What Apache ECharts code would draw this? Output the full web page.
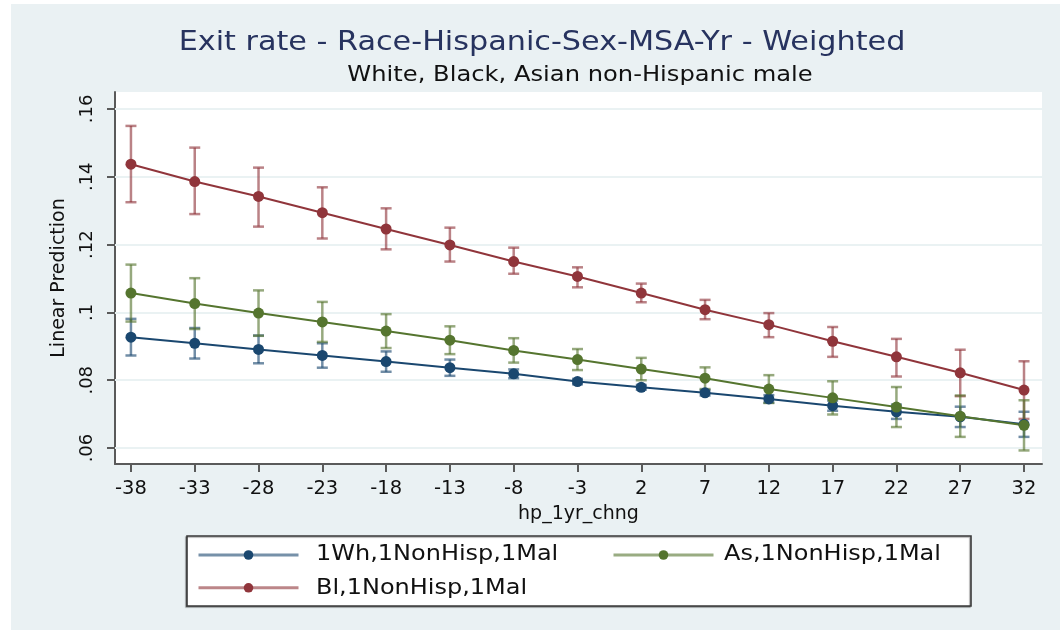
<!DOCTYPE html>
<html>
<head>
<meta charset="utf-8">
<script src="https://cdn.jsdelivr.net/npm/echarts@6/dist/echarts.min.js"></script>
<style>
  html, body { margin: 0; padding: 0; background: #ffffff; }
  #chart { width: 1060px; height: 630px; }
</style>
</head>
<body>
<div id="chart"></div>
<script>
// Predicted exit rate by one-year house-price change, with confidence intervals
const xValues = [-38, -33, -28, -23, -18, -13, -8, -3, 2, 7, 12, 17, 22, 27, 32];
const yTicks = [0.06, 0.08, 0.10, 0.12, 0.14, 0.16];

const whiteName = '1Wh,1NonHisp,1Mal';
const whiteMean  = [0.0927, 0.0909, 0.0891, 0.0873, 0.0855, 0.0837, 0.0819, 0.0796, 0.0779, 0.0763, 0.0745, 0.0725, 0.0707, 0.0692, 0.0670];
const whiteUpper = [0.0981, 0.0954, 0.0932, 0.0909, 0.0885, 0.0861, 0.0832, 0.0804, 0.0786, 0.0771, 0.0756, 0.0740, 0.0728, 0.0722, 0.0707];
const whiteLower = [0.0873, 0.0864, 0.0850, 0.0837, 0.0825, 0.0813, 0.0806, 0.0788, 0.0772, 0.0755, 0.0734, 0.0710, 0.0686, 0.0662, 0.0633];

const blackName = 'Bl,1NonHisp,1Mal';
const blackMean  = [0.1437, 0.1386, 0.1342, 0.1294, 0.1246, 0.1199, 0.1150, 0.1106, 0.1057, 0.1008, 0.0964, 0.0915, 0.0869, 0.0822, 0.0771];
const blackUpper = [0.1550, 0.1486, 0.1427, 0.1369, 0.1307, 0.1250, 0.1191, 0.1133, 0.1085, 0.1037, 0.0998, 0.0957, 0.0922, 0.0890, 0.0856];
const blackLower = [0.1325, 0.1290, 0.1253, 0.1218, 0.1186, 0.1150, 0.1114, 0.1074, 0.1030, 0.0980, 0.0927, 0.0869, 0.0811, 0.0753, 0.0686];

const asianName = 'As,1NonHisp,1Mal';
const asianMean  = [0.1057, 0.1026, 0.0998, 0.0972, 0.0945, 0.0918, 0.0888, 0.0861, 0.0833, 0.0806, 0.0774, 0.0748, 0.0721, 0.0694, 0.0667];
const asianUpper = [0.1141, 0.1101, 0.1065, 0.1031, 0.0995, 0.0959, 0.0924, 0.0892, 0.0866, 0.0838, 0.0815, 0.0797, 0.0780, 0.0755, 0.0741];
const asianLower = [0.0973, 0.0951, 0.0931, 0.0913, 0.0895, 0.0877, 0.0852, 0.0830, 0.0800, 0.0774, 0.0733, 0.0699, 0.0662, 0.0633, 0.0593];

const titleText = 'Exit rate - Race-Hispanic-Sex-MSA-Yr - Weighted';
const subtitleText = 'White, Black, Asian non-Hispanic male';

const NAVY = '#1a476f';
const MAROON = '#90353b';
const FOREST = '#55752f';
const FONT = '"DejaVu Sans", Verdana, sans-serif';

function points(means) { return xValues.map((x, i) => [x, means[i]]); }
function intervals(lower, upper) { return xValues.map((x, i) => [x, lower[i], upper[i]]); }

// Capped vertical interval drawn at each x
function capRenderer(color) {
  return function (params, api) {
    const x = api.value(0);
    const lo = api.coord([x, api.value(1)]);
    const hi = api.coord([x, api.value(2)]);
    const w = 5.5;
    const style = { stroke: color, lineWidth: 2.5, opacity: 0.62 };
    return {
      type: 'group',
      children: [
        { type: 'line', shape: { x1: lo[0], y1: lo[1], x2: hi[0], y2: hi[1] }, style: style },
        { type: 'line', shape: { x1: lo[0] - w, y1: lo[1], x2: lo[0] + w, y2: lo[1] }, style: style },
        { type: 'line', shape: { x1: hi[0] - w, y1: hi[1], x2: hi[0] + w, y2: hi[1] }, style: style }
      ]
    };
  };
}

function capSeries(name, color, lower, upper, z) {
  return {
    type: 'custom',
    name: name + ' CI',
    renderItem: capRenderer(color),
    data: intervals(lower, upper),
    encode: { x: 0, y: [1, 2] },
    z: z,
    silent: true
  };
}

function lineSeries(name, color, means, z) {
  return {
    type: 'line',
    name: name,
    data: points(means),
    symbol: 'circle',
    symbolSize: 11,
    showSymbol: true,
    color: color,
    itemStyle: { color: color },
    lineStyle: { color: color, width: 2 },
    z: z,
    silent: true
  };
}

// Wide-set text, as used for the headings and legend labels
function wideText(text, x, y, size, color, align, stretch) {
  return {
    type: 'text', x: x, y: y, scaleX: stretch, z: 6, silent: true,
    style: { text: text, fontFamily: FONT, fontSize: size, fill: color, align: align, verticalAlign: 'middle' }
  };
}

const chart = echarts.init(document.getElementById('chart'), null, { renderer: 'canvas' });

const yLabel = v => String(+(+v).toFixed(2)).replace(/^0/, '');

const legendBase = {
  orient: 'vertical', top: 549, padding: 0, itemGap: 22,
  itemWidth: 100, itemHeight: 12, z: 5,
  lineStyle: { opacity: 0.6, width: 3 },
  formatter: () => '',
  textStyle: { fontSize: 1 }
};

const option = {
  animation: false,
  backgroundColor: '#ffffff',
  graphic: [
    { type: 'rect', z: -10, shape: { x: 11, y: 4, width: 1049, height: 626 }, style: { fill: '#eaf1f3' } },
    { type: 'rect', z: 1, shape: { x: 187, y: 536, width: 784, height: 70 },
      style: { fill: '#ffffff', stroke: '#3a3a3a', lineWidth: 1.6,
               shadowColor: 'rgba(0,0,0,0.35)', shadowOffsetX: -1, shadowOffsetY: 1, shadowBlur: 1 } },
    wideText(titleText, 542, 43, 27, '#27335f', 'center', 1.12),
    wideText(subtitleText, 580, 75, 22, '#111111', 'center', 1.10),
    wideText(whiteName, 316, 555, 20.5, '#111111', 'left', 1.17),
    wideText(blackName, 316, 589, 20.5, '#111111', 'left', 1.17),
    wideText(asianName, 724, 555, 20.5, '#111111', 'left', 1.17)
  ],
  legend: [
    Object.assign({ data: [whiteName, blackName], left: 197 }, legendBase),
    Object.assign({ data: [asianName], left: 612 }, legendBase)
  ],
  grid: { left: 115, top: 92, right: 18, bottom: 166, show: true, backgroundColor: '#ffffff', borderWidth: 0 },
  xAxis: {
    type: 'value',
    min: -39.25,
    max: 33.41,
    name: 'hp_1yr_chng',
    nameLocation: 'middle',
    nameGap: 41,
    nameTextStyle: { fontFamily: FONT, fontSize: 19, color: '#111' },
    axisLine: { show: true, onZero: false, lineStyle: { color: '#5a5a5a', width: 2 } },
    axisTick: { show: true, inside: false, length: 8, customValues: xValues, lineStyle: { color: '#5a5a5a', width: 2 } },
    axisLabel: { customValues: xValues, margin: 15, fontFamily: FONT, fontSize: 19.5, color: '#111' },
    splitLine: { show: false }
  },
  yAxis: {
    type: 'value',
    min: 0.0553,
    max: 0.1650,
    name: 'Linear Prediction',
    nameLocation: 'middle',
    nameGap: 46,
    nameTextStyle: { fontFamily: FONT, fontSize: 19, color: '#111' },
    axisLine: { show: true, onZero: false, lineStyle: { color: '#5a5a5a', width: 2 } },
    axisTick: { show: true, inside: false, length: 8, customValues: yTicks, lineStyle: { color: '#5a5a5a', width: 2 } },
    axisLabel: { customValues: yTicks, rotate: 90, margin: 19, formatter: yLabel,
                 fontFamily: FONT, fontSize: 18, color: '#111' },
    splitLine: { show: false }
  },
  series: [
    Object.assign(capSeries(whiteName, NAVY, whiteLower, whiteUpper, 3), {
      markLine: {
        silent: true, symbol: 'none', z: 1,
        label: { show: false },
        lineStyle: { color: '#eaf2f3', width: 2, type: 'solid' },
        data: yTicks.map(v => ({ yAxis: v }))
      }
    }),
    capSeries(blackName, MAROON, blackLower, blackUpper, 3),
    capSeries(asianName, FOREST, asianLower, asianUpper, 3),
    lineSeries(whiteName, NAVY, whiteMean, 4),
    lineSeries(blackName, MAROON, blackMean, 4),
    lineSeries(asianName, FOREST, asianMean, 4)
  ]
};

chart.setOption(option);
</script>
</body>
</html>
